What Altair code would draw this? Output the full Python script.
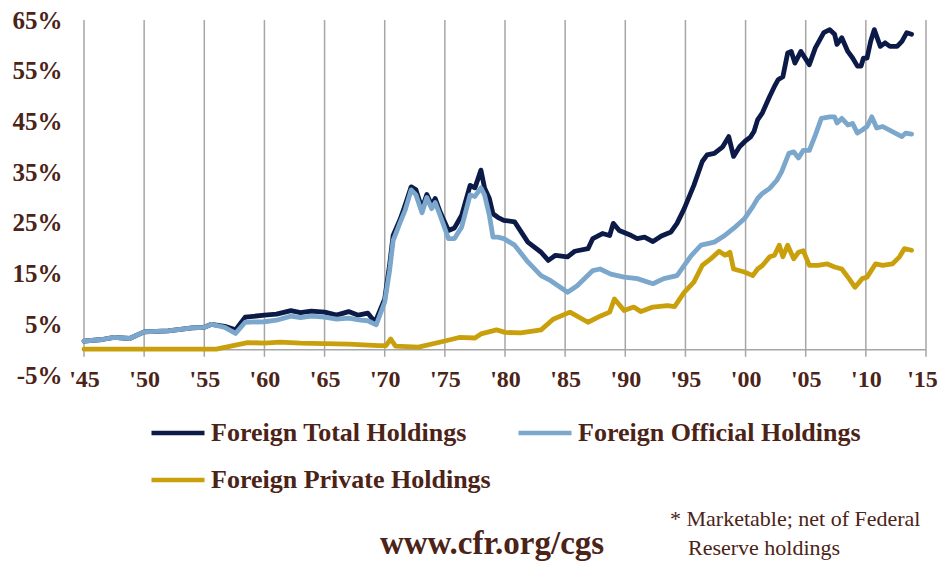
import json
import altair as alt
import pandas as pd

# ---------------- data ----------------
series_names = ["Foreign Total Holdings", "Foreign Official Holdings", "Foreign Private Holdings"]
series_colors = ["#0b1a47", "#7ba7cc", "#c9a00c"]

total_years = [1945.0, 1946.5, 1947.5, 1948.8, 1950.0, 1952.0, 1954.0, 1955.0, 1955.6, 1956.7,
               1957.6, 1958.4, 1960.0, 1961.0, 1962.2, 1963.0, 1963.9, 1965.0, 1966.0, 1967.0,
               1967.8, 1968.6, 1969.2, 1970.0, 1970.4, 1970.7, 1971.3, 1971.7, 1972.2, 1972.6,
               1973.1, 1973.5, 1973.9, 1974.2, 1974.6, 1975.3, 1975.8, 1976.4, 1977.1, 1977.5,
               1978.0, 1978.3, 1978.7, 1979.0, 1979.4, 1979.9, 1980.8, 1981.9, 1983.0, 1983.6,
               1984.2, 1985.2, 1985.8, 1986.9, 1987.3, 1988.1, 1988.7, 1989.0, 1989.5, 1990.5,
               1991.0, 1991.6, 1992.3, 1993.0, 1993.8, 1994.3, 1994.9, 1995.7, 1996.4, 1996.8,
               1997.4, 1998.1, 1998.6, 1999.0, 1999.5, 2000.0, 2000.4, 2000.7, 2001.0, 2001.4,
               2002.0, 2002.4, 2002.7, 2003.1, 2003.5, 2003.8, 2004.1, 2004.6, 2005.3, 2005.8,
               2006.5, 2007.0, 2007.4, 2007.6, 2008.0, 2008.5, 2008.9, 2009.3, 2009.6, 2009.8,
               2010.1, 2010.4, 2010.7, 2011.2, 2011.6, 2012.0, 2012.6, 2013.0, 2013.4, 2013.8]
total_vals = [1.7, 2.0, 2.4, 2.2, 3.5, 3.7, 4.3, 4.4, 5.0, 4.6,
              3.9, 6.4, 6.8, 7.0, 7.7, 7.3, 7.6, 7.4, 6.8, 7.5,
              6.8, 7.2, 5.4, 10.0, 16.6, 22.5, 25.8, 28.5, 32.1, 31.5,
              27.8, 30.6, 28.5, 29.8, 27.2, 23.5, 24.0, 26.5, 32.4, 31.9,
              35.4, 31.9, 29.8, 26.8, 26.1, 25.5, 25.2, 21.2, 19.2, 17.6,
              18.6, 18.3, 19.4, 19.9, 21.9, 22.9, 22.5, 24.9, 23.5, 22.5,
              21.9, 22.2, 21.3, 22.4, 23.2, 24.9, 27.8, 32.4, 37.1, 38.4,
              38.7, 40.0, 42.0, 38.1, 40.0, 41.2, 41.9, 43.0, 45.3, 46.7,
              49.9, 51.9, 53.2, 53.8, 58.5, 58.8, 56.5, 58.8, 56.2, 59.5,
              62.5, 63.1, 62.2, 60.2, 61.5, 58.8, 57.5, 55.9, 55.9, 57.5,
              57.5, 60.8, 63.1, 59.8, 60.5, 59.8, 59.8, 60.8, 62.5, 62.2]

official_years = [1945.0, 1946.5, 1947.5, 1948.8, 1950.0, 1952.0, 1954.0, 1955.0, 1955.6, 1956.7,
                  1957.6, 1958.4, 1960.0, 1961.0, 1962.2, 1963.0, 1963.9, 1965.0, 1966.0, 1967.0,
                  1968.0, 1968.6, 1969.3, 1970.0, 1970.4, 1970.7, 1971.3, 1971.7, 1972.2, 1972.6,
                  1973.1, 1973.5, 1973.9, 1974.2, 1974.6, 1975.3, 1975.8, 1976.4, 1977.1, 1977.5,
                  1978.0, 1978.3, 1978.7, 1979.0, 1979.4, 1979.9, 1980.8, 1981.9, 1983.0, 1983.8,
                  1985.2, 1986.0, 1987.3, 1987.9, 1988.8, 1989.9, 1991.0, 1992.3, 1993.2, 1994.3,
                  1994.9, 1995.5, 1996.3, 1997.4, 1998.2, 1999.0, 1999.9, 2000.6, 2001.0, 2001.4,
                  2002.0, 2002.6, 2003.0, 2003.6, 2004.0, 2004.4, 2004.8, 2005.3, 2005.8, 2006.3,
                  2007.0, 2007.4, 2007.6, 2008.0, 2008.5, 2008.9, 2009.3, 2009.7, 2010.1, 2010.5,
                  2010.9, 2011.4, 2012.2, 2013.0, 2013.3, 2013.8]
official_vals = [1.7, 2.0, 2.4, 2.2, 3.5, 3.7, 4.3, 4.4, 5.0, 4.4,
                 3.2, 5.4, 5.5, 5.8, 6.6, 6.3, 6.6, 6.4, 6.0, 6.2,
                 5.8, 5.7, 4.9, 9.4, 15.5, 21.5, 25.2, 27.5, 31.5, 30.5,
                 27.0, 30.0, 27.8, 29.0, 26.5, 21.9, 21.9, 24.2, 30.5, 30.2,
                 31.9, 30.5, 26.5, 22.2, 22.2, 21.9, 20.6, 17.3, 14.6, 13.6,
                 11.3, 12.6, 15.6, 15.9, 14.9, 14.3, 14.0, 13.0, 14.0, 14.6,
                 16.6, 18.6, 20.6, 21.2, 22.4, 23.9, 25.8, 28.2, 29.8, 30.8,
                 31.8, 33.4, 35.1, 38.7, 39.0, 37.8, 39.3, 39.3, 42.3, 45.6,
                 45.9, 45.9, 44.7, 45.6, 44.3, 44.6, 42.7, 43.3, 44.0, 45.9,
                 43.7, 44.0, 43.0, 42.0, 42.7, 42.5]

private_years = [1945.0, 1956.0, 1957.0, 1958.6, 1960.0, 1961.3, 1963.0, 1965.0, 1967.0, 1969.5,
                 1970.1, 1970.5, 1970.9, 1972.8, 1975.0, 1976.2, 1977.5, 1978.0, 1979.3, 1980.0,
                 1981.3, 1983.0, 1984.0, 1985.4, 1986.9, 1988.0, 1988.7, 1989.1, 1989.9, 1990.7,
                 1991.3, 1992.3, 1993.5, 1994.1, 1994.9, 1995.7, 1996.4, 1997.1, 1997.8, 1998.3,
                 1998.7, 1999.0, 1999.9, 2000.6, 2001.0, 2001.4, 2002.0, 2002.4, 2002.8, 2003.1,
                 2003.5, 2004.0, 2004.4, 2004.8, 2005.3, 2006.0, 2006.8, 2007.4, 2008.0, 2008.6,
                 2009.1, 2009.7, 2010.1, 2010.8, 2011.4, 2012.2, 2012.8, 2013.2, 2013.8]
private_vals = [0.1, 0.1, 0.6, 1.4, 1.3, 1.5, 1.3, 1.2, 1.1, 0.8,
                0.8, 2.1, 0.7, 0.5, 1.7, 2.4, 2.3, 3.1, 3.9, 3.4,
                3.3, 3.9, 6.0, 7.4, 5.4, 6.7, 7.4, 10.0, 7.7, 8.4,
                7.5, 8.4, 8.7, 8.5, 11.3, 13.3, 16.6, 17.9, 19.4, 18.6,
                19.2, 15.9, 15.3, 14.6, 15.9, 16.6, 18.3, 18.6, 20.6, 18.3,
                20.6, 17.9, 19.2, 19.5, 16.6, 16.6, 16.9, 16.3, 15.9, 14.0,
                12.3, 14.0, 14.3, 16.9, 16.6, 16.9, 18.3, 19.9, 19.6]

x_ticks = [1945, 1950, 1955, 1960, 1965, 1970, 1975, 1980, 1985, 1990, 1995, 2000, 2005, 2010, 2015]
x_tick_labels = ["'45", "'50", "'55", "'60", "'65", "'70", "'75", "'80", "'85", "'90",
                 "'95", "'00", "'05", "'10", "'15"]
y_ticks = [-5, 5, 15, 25, 35, 45, 55, 65]
y_tick_labels = ["-5%", "5%", "15%", "25%", "35%", "45%", "55%", "65%"]

url_text = "www.cfr.org/cgs"
note_lines = ["* Marketable; net of Federal", "Reserve holdings"]

# ---------------- build ----------------
frames = []
for name, yrs, vals in [(series_names[0], total_years, total_vals),
                        (series_names[1], official_years, official_vals),
                        (series_names[2], private_years, private_vals)]:
    frames.append(pd.DataFrame({"year": yrs, "value": vals, "series": name}))
df = pd.concat(frames, ignore_index=True)

FONT = "Liberation Serif"
TXT = "#4b2317"
GRID = "#a6a6a6"

x_label_expr = f"{json.dumps(x_tick_labels)}[indexof({json.dumps(x_ticks)}, datum.value)]"
y_label_expr = f"{json.dumps(y_tick_labels)}[indexof({json.dumps(y_ticks)}, datum.value)]"

x_axis = alt.Axis(values=x_ticks, labelExpr=x_label_expr, grid=False, ticks=False, domain=False,
                  labelFont=FONT, labelFontSize=24, labelFontWeight="bold", labelColor=TXT,
                  labelBaseline="middle", labelPadding=4, title=None, labelFlush=False,
                  labelOffset={"condition": {"test": f"datum.value == {x_ticks[-1]}", "value": -4},
                               "value": 0})
y_axis = alt.Axis(values=y_ticks, labelExpr=y_label_expr, grid=False, ticks=False, domain=False,
                  labelFont=FONT, labelFontSize=25, labelFontWeight="bold", labelColor=TXT,
                  labelPadding=22, title=None)
x_scale = alt.Scale(domain=[x_ticks[0], x_ticks[-1]], nice=False, zero=False)
y_scale = alt.Scale(domain=[y_ticks[0], y_ticks[-1]], nice=False, zero=False)

legend = alt.Legend(orient="none", legendX=65, legendY=384, columns=2, direction="horizontal",
                    title=None, symbolType="stroke", symbolSize=2809, symbolStrokeWidth=4.5,
                    labelFont=FONT, labelFontSize=26, labelFontWeight="bold", labelColor=TXT,
                    labelOffset=4, rowPadding=5, columnPadding=18, padding=0, labelLimit=400)
color = alt.Color("series:N", scale=alt.Scale(domain=series_names, range=series_colors), legend=legend)

grid = alt.Chart(pd.DataFrame({"year": x_ticks})).mark_rule(color=GRID, strokeWidth=1.5).encode(
    x=alt.X("year:Q", scale=x_scale, axis=x_axis),
    y=alt.datum(y_ticks[-1], scale=y_scale),
    y2=alt.datum(-1.4),
)
zero = alt.Chart(pd.DataFrame({"value": [0]})).mark_rule(color=GRID, strokeWidth=1.5).encode(
    y=alt.Y("value:Q", scale=y_scale, axis=y_axis),
)

lines = []
for name in series_names:
    lines.append(
        alt.Chart(df).transform_filter(alt.datum.series == name)
        .mark_line(strokeWidth=4.8, strokeJoin="round", strokeCap="round")
        .encode(
            x=alt.X("year:Q", scale=x_scale, axis=x_axis),
            y=alt.Y("value:Q", scale=y_scale, axis=y_axis),
            color=color,
        )
    )

url = alt.Chart(pd.DataFrame({"t": [url_text]})).mark_text(
    font=FONT, fontSize=33, fontWeight="bold", color=TXT, align="center", baseline="alphabetic"
).encode(text="t:N", x=alt.value(408), y=alt.value(534))
note1 = alt.Chart(pd.DataFrame({"t": [note_lines[0]]})).mark_text(
    font=FONT, fontSize=22, color=TXT, align="left", baseline="alphabetic"
).encode(text="t:N", x=alt.value(586), y=alt.value(506))
note2 = alt.Chart(pd.DataFrame({"t": [note_lines[1]]})).mark_text(
    font=FONT, fontSize=22, color=TXT, align="left", baseline="alphabetic"
).encode(text="t:N", x=alt.value(604), y=alt.value(535))

chart = alt.layer(grid, zero, *lines, url, note1, note2).properties(
    width=842, height=355,
    autosize=alt.AutoSizeParams(type="none"),
    padding={"left": 76, "top": 12, "right": 14, "bottom": 186},
    background="white",
).configure_view(stroke=None)

chart.save("out.html", embed_options={"renderer": "svg", "actions": False})
